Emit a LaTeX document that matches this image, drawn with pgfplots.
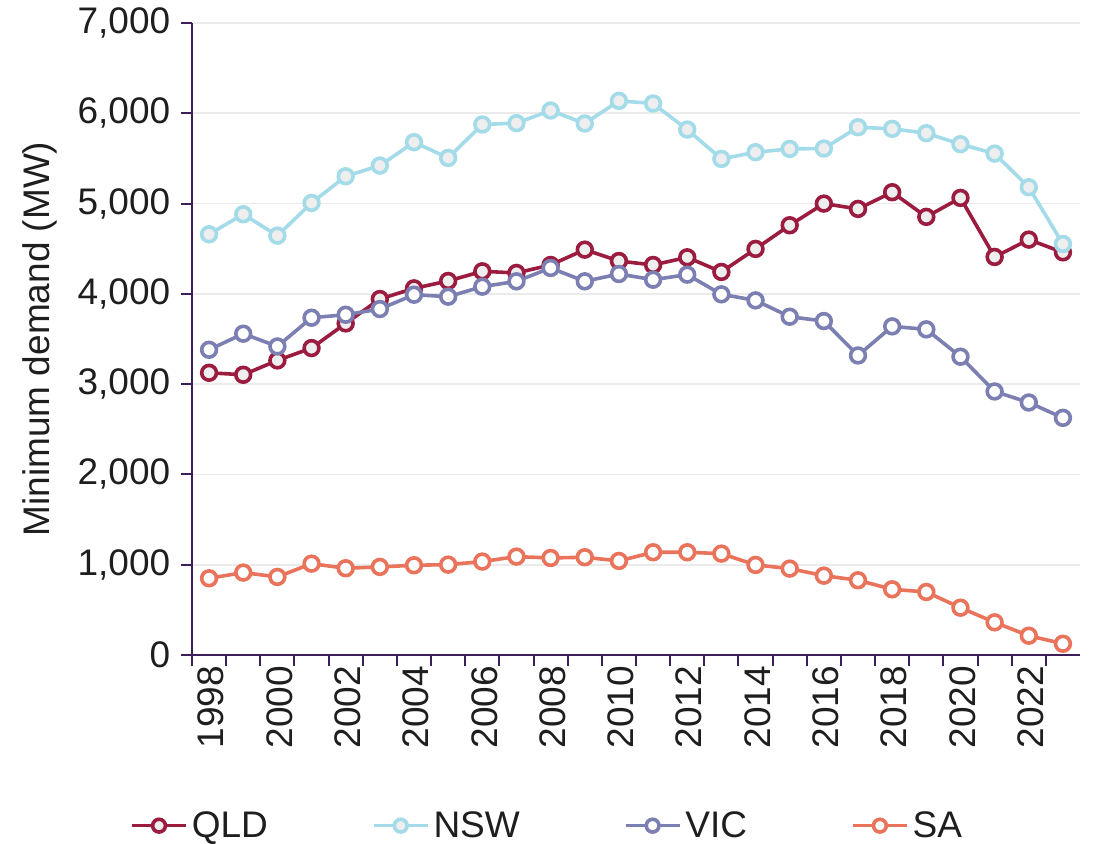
\documentclass[border=0pt]{standalone}
\usepackage{pgfplots}
\pgfplotsset{compat=1.18}
\usepackage{fontspec}
\setmainfont{Liberation Sans}
\definecolor{qld}{HTML}{9C1C40}
\definecolor{nsw}{HTML}{A3DBE9}
\definecolor{vic}{HTML}{7C7FB1}
\definecolor{sa}{HTML}{E9735B}
\definecolor{axcol}{HTML}{3B1E5A}
\definecolor{txt}{HTML}{1E1E1E}
\definecolor{gridc}{HTML}{EBEBEB}
\definecolor{mfill}{HTML}{EEEEEE}
\begin{document}
\begin{tikzpicture}[font=\fontsize{18.5}{22.2}\selectfont, text=txt]
\path[use as bounding box] (-96pt,-94pt) rectangle (452pt,327.5pt);
\begin{axis}[
  scale only axis, width=444pt, height=316pt,
  xmin=1997.5, xmax=2023.5, ymin=0, ymax=7000,
  axis x line*=bottom, axis y line*=left,
  axis line style={draw=axcol, line width=1.1pt},
  xtick={1998,2000,...,2022},
  minor xtick={1997.5,1998.5,...,2022.5},
  xtick style={draw=none},
  minor x tick style={draw=axcol, line width=1pt},
  minor tick length=5.5pt,
  ytick={0,1000,...,7000},
  y tick style={draw=axcol, line width=1pt},
  major tick length=5.3pt,
  tick align=outside,
  ymajorgrids, grid style={draw=gridc, line width=0.85pt},
  /pgf/number format/assume math mode=true,
  /pgf/number format/1000 sep={,},
  xticklabel={\pgfmathprintnumber[1000 sep={}]{\tick}},
  xticklabel style={rotate=90, anchor=east, inner sep=0pt, yshift=-1pt},
  yticklabel style={inner sep=0pt, xshift=-5.4pt},
  ylabel={Minimum demand (MW)},
  ylabel style={at={(axis description cs:-0.171,0.5)}, anchor=center},
  clip=false,
  legend columns=4,
  legend style={at={(axis description cs:-0.070,-0.270)}, anchor=west, draw=none, fill=none,
    inner sep=0pt, column sep=0pt,
    /tikz/every even column/.append style={column sep=50pt},
    nodes={inner xsep=2pt}},
  legend image code/.code={\draw[mark repeat=2,mark phase=2, mark size=3.2pt] plot coordinates {(0pt,0pt) (13.5pt,0pt) (27pt,0pt)};},
  every axis plot/.append style={line width=1.8pt, mark=*, mark size=3.7pt, mark options={line width=1pt}},
]
\addplot[color=qld, mark options={fill=mfill}] coordinates {
(1998,3126) (1999,3104) (2000,3263) (2001,3400) (2002,3673) (2003,3943) (2004,4061) (2005,4143)
(2006,4250) (2007,4232) (2008,4320) (2009,4490) (2010,4364) (2011,4320) (2012,4405) (2013,4243)
(2014,4498) (2015,4760) (2016,5000) (2017,4941) (2018,5126) (2019,4853) (2020,5063) (2021,4409)
(2022,4601) (2023,4460)};
\addlegendentry{QLD}
\addplot[color=nsw, mark options={fill=mfill}] coordinates {
(1998,4660) (1999,4882) (2000,4645) (2001,5007) (2002,5303) (2003,5421) (2004,5680) (2005,5506)
(2006,5876) (2007,5891) (2008,6031) (2009,5887) (2010,6138) (2011,6109) (2012,5820) (2013,5495)
(2014,5569) (2015,5606) (2016,5610) (2017,5846) (2018,5828) (2019,5780) (2020,5658) (2021,5554)
(2022,5181) (2023,4553)};
\addlegendentry{NSW}
\addplot[color=vic, mark options={fill=white}] coordinates {
(1998,3381) (1999,3559) (2000,3418) (2001,3736) (2002,3769) (2003,3832) (2004,3991) (2005,3969)
(2006,4080) (2007,4139) (2008,4287) (2009,4139) (2010,4220) (2011,4157) (2012,4213) (2013,3995)
(2014,3928) (2015,3747) (2016,3699) (2017,3318) (2018,3640) (2019,3607) (2020,3304) (2021,2919)
(2022,2797) (2023,2627)};
\addlegendentry{VIC}
\addplot[color=sa, mark options={fill=white}] coordinates {
(1998,850) (1999,913) (2000,865) (2001,1012) (2002,961) (2003,976) (2004,994) (2005,1001)
(2006,1035) (2007,1090) (2008,1075) (2009,1083) (2010,1042) (2011,1138) (2012,1138) (2013,1123)
(2014,998) (2015,957) (2016,879) (2017,828) (2018,728) (2019,698) (2020,524) (2021,362)
(2022,214) (2023,125)};
\addlegendentry{SA}
\end{axis}
\end{tikzpicture}
\end{document}
